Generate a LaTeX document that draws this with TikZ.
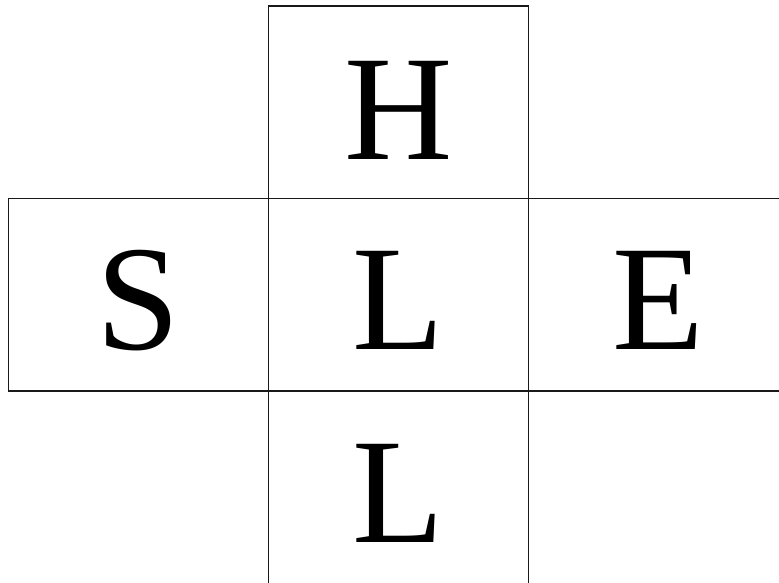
\documentclass[tikz,border=0pt]{standalone}
\usepackage{fontspec}
\setmainfont{Liberation Serif}
\begin{document}
\begin{tikzpicture}[x=1pt,y=-1pt,
  cell/.style={draw=black!90,line width=1.7pt,minimum width=260pt,minimum height=192.5pt,inner sep=0pt,outer sep=0pt},
  letter/.style={anchor=base,inner sep=0pt,font=\fontsize{150}{150}\selectfont}]
\useasboundingbox (0,0) rectangle (779,582);
\node[cell] (top) at (398.5,102.25) {};
\node[cell] (left) at (138.5,294.75) {};
\node[cell] (mid) at (398.5,294.75) {};
\node[cell] (right) at (658.5,294.75) {};
\node[cell] (bot) at (398.5,487.25) {};
\node[letter] (h) at (398.5,159) {H};
\node[letter] (s) at (138.5,349.5) {S};
\node[letter] (l1) at (398.5,349.5) {L};
\node[letter] (e) at (658.5,349.5) {E};
\node[letter] (l2) at (398.5,542) {L};
\end{tikzpicture}
\end{document}
